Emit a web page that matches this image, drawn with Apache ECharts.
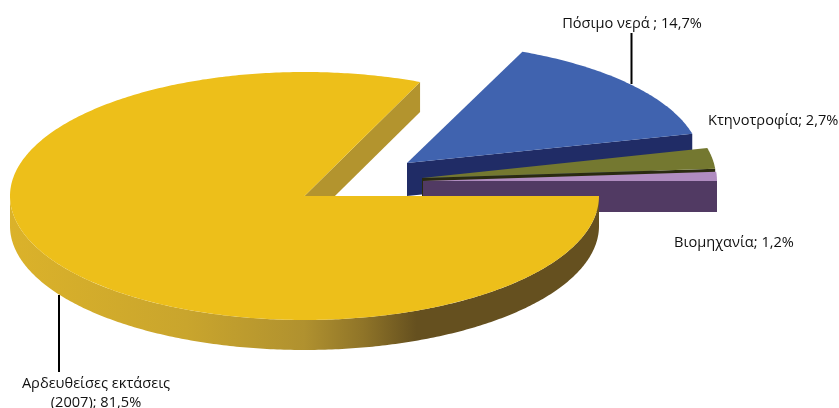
<!DOCTYPE html>
<html><head><meta charset="utf-8">
<style>html,body{margin:0;padding:0;background:#fff}#c{width:839px;height:408px}</style>
<script src="https://cdn.jsdelivr.net/npm/echarts@6/dist/echarts.min.js"></script>
</head><body><div id="c"></div>
<script>
// Data
const names = ['Αρδευθείσες εκτάσεις (2007)', 'Πόσιμο νερά', 'Κτηνοτροφία', 'Βιομηχανία'];
const values = [81.5, 14.7, 2.7, 1.2];
const labelLines = [
  ['Αρδευθείσες εκτάσεις', '(2007); 81,5%'],
  ['Πόσιμο νερά ; 14,7%'],
  ['Κτηνοτροφία; 2,7%'],
  ['Βιομηχανία; 1,2%']
];
// Styling and layout
const topColors = ['#EDBF1A', '#4063AF', '#747830', '#B08CC0'];
const edgeColors = ['#B3942E', '#202C66', '#2A2A10', '#513A63'];
const geometry = [
  {cx: 304.5, cy: 196, rx: 294.5, ry: 124, h: 30},
  {cx: 407,   cy: 163, rx: 294,   ry: 121, h: 33},
  {cx: 422,   cy: 178, rx: 294,   ry: 124, h: 30},
  {cx: 423,   cy: 181, rx: 294,   ry: 124, h: 31}
];
const labelPos = [
  {x: 96, y: 384, align: 'center', lh: 19},
  {x: 632, y: 24, align: 'center', lh: 19},
  {x: 708, y: 121, align: 'left', lh: 19},
  {x: 674, y: 243, align: 'left', lh: 19}
];
const leaders = [[59, 295, 59, 372], [631.5, 33, 631.5, 84], null, null];
const drawOrder = [1, 2, 3, 0];
const FONT = '14.6px "Open Sans", "Noto Sans", sans-serif';

const total = values.reduce((a, b) => a + b, 0);
const sweeps = [];
let acc = 0;
values.forEach(v => {
  const s = -acc / total * 360;
  acc += v;
  sweeps.push([s, -acc / total * 360]);
});
const rad = d => d * Math.PI / 180;
function pt(g, a, dy) {
  return [g.cx + g.rx * Math.cos(rad(a)), g.cy - g.ry * Math.sin(rad(a)) + (dy || 0)];
}
function arc(g, from, to, dy) {
  const n = Math.max(2, Math.ceil(Math.abs(to - from) * 1.5));
  const pts = [];
  for (let i = 0; i <= n; i++) pts.push(pt(g, from + (to - from) * i / n, dy));
  return pts;
}
const wallGradient = new echarts.graphic.LinearGradient(0, 0, 1, 0, [
  {offset: 0, color: '#DBB22A'},
  {offset: 0.3, color: '#C9A52D'},
  {offset: 0.5, color: '#B0912F'},
  {offset: 0.6, color: '#8F7428'},
  {offset: 0.69, color: '#65501F'},
  {offset: 1, color: '#65501F'}
]);

function renderItem(params, api) {
  const i = api.value(0);
  const g = geometry[i];
  const [start, end] = sweeps[i];
  const kids = [];
  const apex = [g.cx, g.cy];
  const e = pt(g, end);
  // radial wall on the front-facing cut
  kids.push({type: 'polygon', silent: true,
    shape: {points: [apex, e, [e[0], e[1] + g.h], [apex[0], apex[1] + g.h]]},
    style: {fill: edgeColors[i]}});
  // outer rim for the part of the sweep on the near side
  const from = Math.min(start, 0), to = Math.max(end, -180);
  if (from > to) {
    kids.push({type: 'polygon', silent: true,
      shape: {points: arc(g, from, to, 0).concat(arc(g, to, from, g.h))},
      style: {fill: i === 0 ? wallGradient : edgeColors[i]}});
  }
  // top face
  kids.push({type: 'polygon', silent: true,
    shape: {points: [apex].concat(arc(g, start, end, 0))},
    style: {fill: topColors[i]}});
  return {type: 'group', children: kids};
}
function renderLabel(params, api) {
  const i = api.value(0);
  const p = labelPos[i];
  const kids = labelLines[i].map((t, k) => ({
    type: 'text', silent: true,
    style: {text: t, x: p.x, y: p.y + k * p.lh, textAlign: p.align, textVerticalAlign: 'middle',
      font: FONT, fill: '#111'}
  }));
  if (leaders[i]) {
    const l = leaders[i];
    kids.push({type: 'line', silent: true,
      shape: {x1: l[0], y1: l[1], x2: l[2], y2: l[3]},
      style: {stroke: '#000', lineWidth: 2}});
  }
  return {type: 'group', children: kids};
}

const chart = echarts.init(document.getElementById('c'), null, {renderer: 'canvas'});
chart.setOption({
  animation: false,
  backgroundColor: '#fff',
  series: [
    {type: 'custom', coordinateSystem: 'none', clip: false, silent: true, z: 2,
     renderItem, data: drawOrder.map(i => [i, values[i], names[i]])},
    {type: 'custom', coordinateSystem: 'none', clip: false, silent: true, z: 3,
     renderItem: renderLabel, data: values.map((v, i) => [i, v, names[i]])}
  ]
});
</script></body></html>
